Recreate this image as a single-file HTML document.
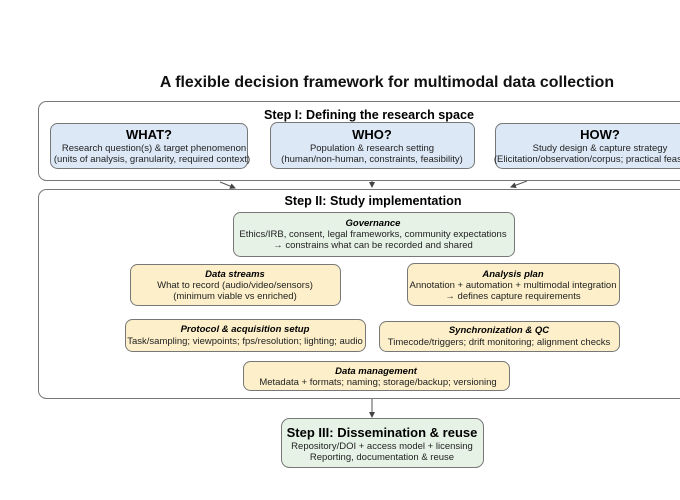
<!DOCTYPE html>
<html><head><meta charset="utf-8"><style>
html,body{margin:0;padding:0;background:#fff;}
svg{display:block;font-family:"Liberation Sans",Arial,sans-serif;}
</style></head><body>
<svg width="680" height="500" viewBox="0 0 680 500" xmlns="http://www.w3.org/2000/svg">
<defs><marker id="a" markerWidth="6" markerHeight="6" refX="5" refY="3" orient="auto"><path d="M0,0 L6,3 L0,6 z" fill="#444"/></marker></defs>
<text x="387" y="87" text-anchor="middle" font-size="15.9" font-weight="bold" fill="#111">A flexible decision framework for multimodal data collection</text>
<rect x="38.5" y="101.5" width="660" height="79" rx="8" fill="#fff" stroke="#777"/>
<text x="369" y="119" text-anchor="middle" font-size="12.6" font-weight="bold">Step I: Defining the research space</text>
<g stroke="#777" fill="#dde8f6">
<rect x="50.5" y="123.5" width="197" height="45" rx="7"/>
<rect x="270.5" y="122.5" width="204" height="46" rx="7"/>
<rect x="495.5" y="123.5" width="200" height="45" rx="7"/>
</g>
<g text-anchor="middle" font-size="13" font-weight="bold"><text x="149" y="139">WHAT?</text><text x="372" y="139">WHO?</text><text x="600" y="139">HOW?</text></g>
<g text-anchor="middle" font-size="9.5" fill="#222">
<text x="154" y="151">Research question(s) &amp; target phenomenon</text>
<text x="152" y="162">(units of analysis, granularity, required context)</text>
<text x="372" y="151">Population &amp; research setting</text>
<text x="372" y="162">(human/non-human, constraints, feasibility)</text>
<text x="600" y="151">Study design &amp; capture strategy</text>
<text x="600" y="162">(Elicitation/observation/corpus; practical feasibility)</text>
</g>
<g stroke="#555" stroke-width="1" marker-end="url(#a)">
<line x1="220" y1="182" x2="235" y2="188"/>
<line x1="372" y1="181" x2="372" y2="187"/>
<line x1="527" y1="181" x2="511" y2="187"/>
<line x1="372" y1="398" x2="372" y2="417"/>
</g>
<rect x="38.5" y="189.5" width="660" height="209" rx="8" fill="#fff" stroke="#777"/>
<text x="373" y="205" text-anchor="middle" font-size="12.6" font-weight="bold">Step II: Study implementation</text>
<rect x="233.5" y="212.5" width="281" height="44" rx="7" fill="#e6f2e6" stroke="#777"/>
<g fill="#fcefc9" stroke="#777">
<rect x="130.5" y="264.5" width="210" height="41" rx="7"/>
<rect x="407.5" y="263.5" width="212" height="42" rx="7"/>
<rect x="125.5" y="319.5" width="240" height="32" rx="7"/>
<rect x="379.5" y="321.5" width="240" height="30" rx="7"/>
<rect x="243.5" y="361.5" width="266" height="29" rx="7"/>
</g>
<g text-anchor="middle" font-size="9.5" font-weight="bold" font-style="italic">
<text x="373" y="226">Governance</text>
<text x="235" y="277">Data streams</text>
<text x="513" y="277">Analysis plan</text>
<text x="245" y="332">Protocol &amp; acquisition setup</text>
<text x="499" y="333">Synchronization &amp; QC</text>
<text x="376" y="374">Data management</text>
</g>
<g text-anchor="middle" font-size="9.5" fill="#222">
<text x="373" y="237">Ethics/IRB, consent, legal frameworks, community expectations</text>
<text x="373" y="248">→ constrains what can be recorded and shared</text>
<text x="235" y="288">What to record (audio/video/sensors)</text>
<text x="235" y="299">(minimum viable vs enriched)</text>
<text x="513" y="288">Annotation + automation + multimodal integration</text>
<text x="513" y="299">→ defines capture requirements</text>
<text x="245" y="344">Task/sampling; viewpoints; fps/resolution; lighting; audio</text>
<text x="499" y="345">Timecode/triggers; drift monitoring; alignment checks</text>
<text x="378" y="385">Metadata + formats; naming; storage/backup; versioning</text>
</g>
<rect x="281.5" y="418.5" width="202" height="49" rx="8" fill="#e6f2e6" stroke="#777"/>
<text x="382" y="437" text-anchor="middle" font-size="13" font-weight="bold">Step III: Dissemination &amp; reuse</text>
<text x="382" y="449" text-anchor="middle" font-size="9.5" fill="#222">Repository/DOI + access model + licensing</text>
<text x="382" y="460" text-anchor="middle" font-size="9.5" fill="#222">Reporting, documentation &amp; reuse</text>
</svg>
</body></html>
